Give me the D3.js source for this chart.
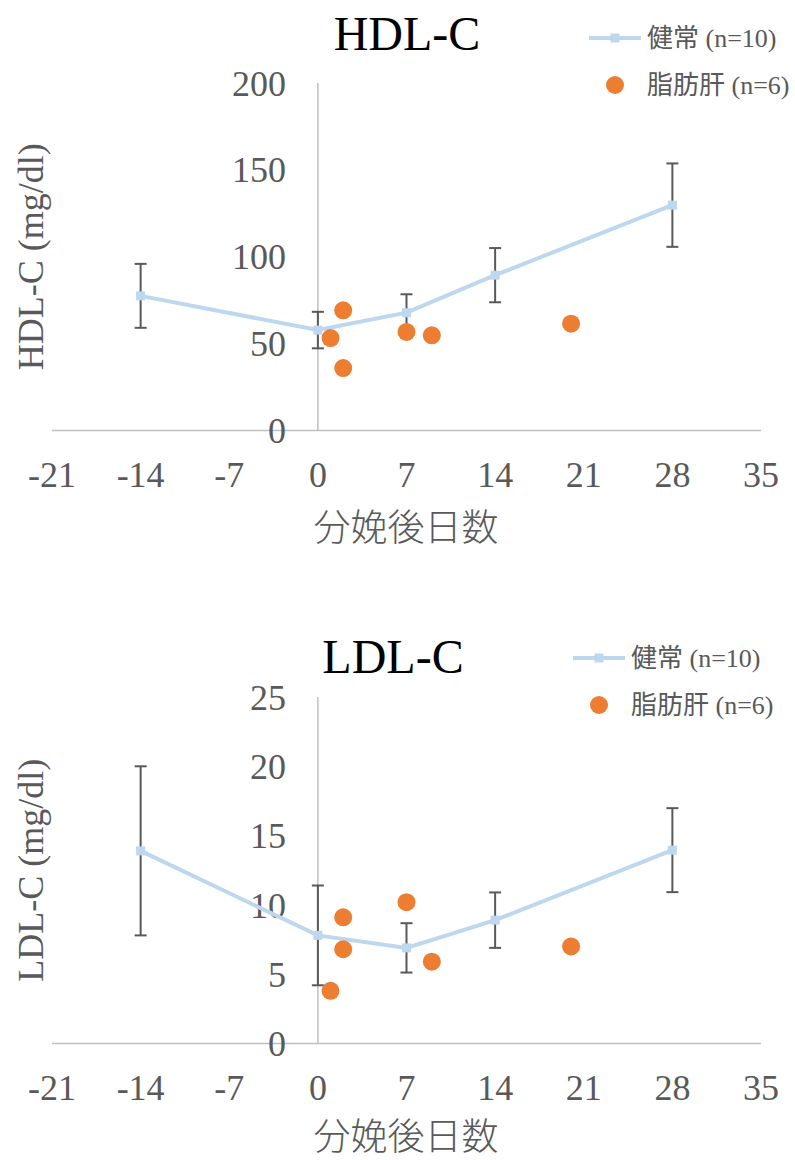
<!DOCTYPE html>
<html><head><meta charset="utf-8">
<script src="https://cdn.jsdelivr.net/npm/d3@7"></script>
<style>body{margin:0;background:#fff}svg{display:block}</style>
</head><body>
<svg id="c" width="795" height="1160"></svg>
<script>
const xTicks = [-21, -14, -7, 0, 7, 14, 21, 28, 35];
const healthyDays = [-14, 0, 7, 14, 28];
const hdlHealthy = [77.5, 57.8, 67.8, 89.4, 129.7];
const hdlHealthyErr = [18.4, 10.5, 10.6, 15.6, 24];
const fattyDays = [1, 2, 2, 7, 9, 20];
const hdlFatty = [53.2, 69.2, 35.9, 56.7, 54.8, 61.5];
const hdlTicks = [0, 50, 100, 150, 200];
const ldlHealthy = [13.9, 7.8, 6.9, 8.9, 13.95];
const ldlHealthyErr = [6.1, 3.6, 1.78, 2.0, 3.03];
const ldlFatty = [3.8, 9.1, 6.8, 10.2, 5.9, 7.0];
const ldlTicks = [0, 5, 10, 15, 20, 25];
const legendLabels = ["健常 (n=10)", "脂肪肝 (n=6)"];
const xTitle = "分娩後日数";

const svg = d3.select("#c");
const FONT = "'Liberation Serif','Times New Roman','Noto Sans CJK JP',serif";
const GRAY = "#595959";
const BLUE = "#BDD7EE";
const ORANGE = "#ED7D31";

function chart(cfg) {
  const g = svg.append("g");
  const x = d3.scaleLinear().domain([-21, 35]).range([52, 761]);
  const y = d3.scaleLinear().domain([0, cfg.ymax]).range([cfg.y0, cfg.y1]);

  g.append("line").attr("x1", x(-21)).attr("x2", x(35)).attr("y1", y(0)).attr("y2", y(0))
    .attr("stroke", "#bfbfbf").attr("stroke-width", 1.5);
  g.append("line").attr("x1", x(0)).attr("x2", x(0)).attr("y1", y(0)).attr("y2", y(cfg.ymax))
    .attr("stroke", "#bfbfbf").attr("stroke-width", 1.5);

  g.selectAll(".yt").data(cfg.yticks).join("text")
    .attr("x", x(0) - 32).attr("y", d => y(d)).attr("dy", "0.35em")
    .attr("text-anchor", "end").attr("font-family", FONT).attr("font-size", 36)
    .attr("fill", GRAY).text(d => d);

  g.selectAll(".xt").data(xTicks).join("text")
    .attr("x", d => x(d)).attr("y", y(0) + 56)
    .attr("text-anchor", "middle").attr("font-family", FONT).attr("font-size", 36)
    .attr("fill", GRAY).text(d => d);

  g.append("text").attr("x", cfg.titleX).attr("y", cfg.titleY).attr("text-anchor", "middle")
    .attr("font-family", FONT).attr("font-size", 48).attr("fill", "#000").text(cfg.title);
  g.append("text").attr("x", 406).attr("y", y(0) + cfg.xtOff).attr("text-anchor", "middle")
    .attr("font-family", "'Noto Sans CJK JP',sans-serif").attr("font-weight", 300)
    .attr("font-size", 37).attr("fill", GRAY).text(xTitle);
  const ym = (y(0) + y(cfg.ymax)) / 2;
  g.append("text").attr("transform", `translate(43,${ym}) rotate(-90)`).attr("text-anchor", "middle")
    .attr("font-family", FONT).attr("font-size", 36).attr("fill", GRAY).text(cfg.ytitle);

  const eb = g.selectAll(".eb").data(healthyDays.map((d, i) => [d, cfg.vals[i], cfg.errs[i]])).join("g");
  eb.append("line").attr("x1", d => x(d[0])).attr("x2", d => x(d[0]))
    .attr("y1", d => y(d[1] + d[2])).attr("y2", d => y(d[1] - d[2]))
    .attr("stroke", GRAY).attr("stroke-width", 2);
  [1, -1].forEach(s => {
    eb.append("line").attr("x1", d => x(d[0]) - 6).attr("x2", d => x(d[0]) + 6)
      .attr("y1", d => y(d[1] + s * d[2])).attr("y2", d => y(d[1] + s * d[2]))
      .attr("stroke", GRAY).attr("stroke-width", 2);
  });

  const line = d3.line().x(d => x(d[0])).y(d => y(d[1]));
  g.append("path").datum(healthyDays.map((d, i) => [d, cfg.vals[i]]))
    .attr("d", line).attr("fill", "none").attr("stroke", BLUE).attr("stroke-width", 4);
  g.selectAll(".mk").data(healthyDays.map((d, i) => [d, cfg.vals[i]])).join("rect")
    .attr("x", d => x(d[0]) - 4.5).attr("y", d => y(d[1]) - 4.5)
    .attr("width", 9).attr("height", 9).attr("fill", BLUE);

  g.selectAll(".fp").data(fattyDays.map((d, i) => [d, cfg.fatty[i]])).join("circle")
    .attr("cx", d => x(d[0])).attr("cy", d => y(d[1])).attr("r", 9).attr("fill", ORANGE);

  const lx = cfg.legX, ly = cfg.legY;
  g.append("line").attr("x1", lx).attr("x2", lx + 52).attr("y1", ly).attr("y2", ly)
    .attr("stroke", BLUE).attr("stroke-width", 4);
  g.append("rect").attr("x", lx + 26 - 4.5).attr("y", ly - 4.5).attr("width", 9).attr("height", 9).attr("fill", BLUE);
  g.append("circle").attr("cx", lx + 26).attr("cy", ly + 47).attr("r", 9).attr("fill", ORANGE);
  legendLabels.forEach((t, i) => {
    g.append("text").attr("x", lx + 58).attr("y", ly + i * 47).attr("dy", "0.35em")
      .attr("font-family", FONT).attr("font-size", 26).attr("fill", GRAY).text(t);
  });
}

chart({ title: "HDL-C", titleX: 407, titleY: 50, ytitle: "HDL-C (mg/dl)", ymax: 200, y0: 430.5, y1: 83, xtOff: 110,
  yticks: hdlTicks, vals: hdlHealthy, errs: hdlHealthyErr, fatty: hdlFatty, legX: 589, legY: 38 });
chart({ title: "LDL-C", titleX: 393, titleY: 673, ytitle: "LDL-C (mg/dl)", ymax: 25, y0: 1043.5, y1: 697, xtOff: 106,
  yticks: ldlTicks, vals: ldlHealthy, errs: ldlHealthyErr, fatty: ldlFatty, legX: 573, legY: 658 });
</script>
</body></html>
